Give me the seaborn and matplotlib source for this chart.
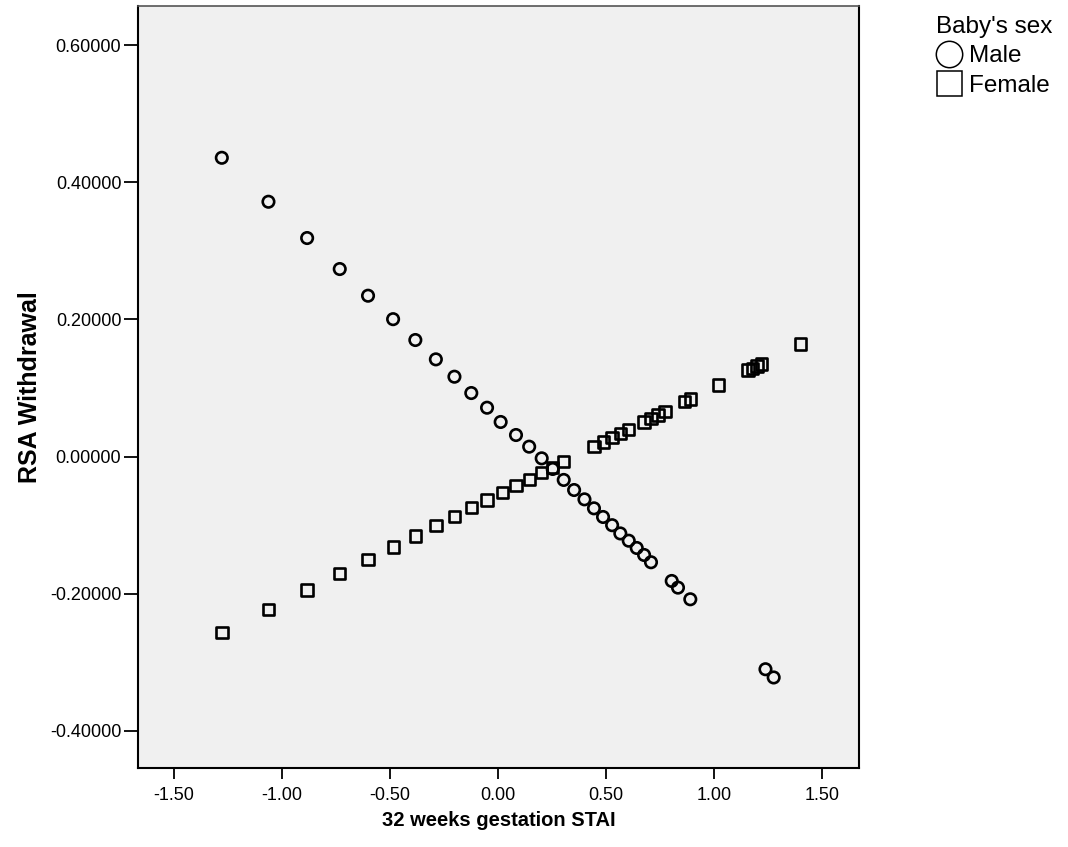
import matplotlib
matplotlib.use("Agg")
import matplotlib.pyplot as plt
from matplotlib.lines import Line2D
import seaborn as sns
import pandas as pd

# ---- data ----
male_stai = [-1.279, -1.063, -0.884, -0.733, -0.602, -0.486, -0.383, -0.288, -0.202,
             -0.124, -0.051, 0.012, 0.083, 0.144, 0.202, 0.253, 0.304, 0.352, 0.400,
             0.444, 0.486, 0.528, 0.566, 0.605, 0.642, 0.676, 0.708, 0.804, 0.833,
             0.890, 1.238, 1.276]
male_rsa = [0.4357, 0.3716, 0.3187, 0.2735, 0.2346, 0.2004, 0.1700, 0.1418, 0.1165,
            0.0927, 0.0713, 0.0505, 0.0315, 0.0145, -0.0025, -0.0180, -0.0340, -0.0487,
            -0.0623, -0.0754, -0.0880, -0.1000, -0.1120, -0.1226, -0.1332, -0.1434,
            -0.1540, -0.1813, -0.1910, -0.2080, -0.3100, -0.3220]

female_stai = [-1.279, -1.063, -0.884, -0.733, -0.602, -0.485, -0.383, -0.287, -0.202,
               -0.122, -0.051, 0.020, 0.083, 0.145, 0.202, 0.253, 0.304, 0.444, 0.488,
               0.528, 0.566, 0.603, 0.676, 0.708, 0.741, 0.773, 0.863, 0.890, 1.020,
               1.157, 1.177, 1.198, 1.219, 1.401]
female_rsa = [-0.2567, -0.2232, -0.1945, -0.1707, -0.1500, -0.1318, -0.1157, -0.1007,
              -0.0876, -0.0745, -0.0633, -0.0526, -0.0424, -0.0331, -0.0235, -0.0160,
              -0.0074, 0.0145, 0.0210, 0.0275, 0.0334, 0.0393, 0.0504, 0.0558, 0.0610,
              0.0655, 0.0800, 0.0840, 0.1044, 0.1262, 0.1287, 0.1320, 0.1350, 0.1640]

sex_labels = ["Male", "Female"]
x_ticks = [-1.5, -1.0, -0.5, 0.0, 0.5, 1.0, 1.5]
y_ticks = [-0.4, -0.2, 0.0, 0.2, 0.4, 0.6]

df = pd.DataFrame({
    "stai": male_stai + female_stai,
    "rsa": male_rsa + female_rsa,
    "sex": [sex_labels[0]] * len(male_stai) + [sex_labels[1]] * len(female_stai),
})

sns.set_theme(style="white")
plt.rcParams["font.family"] = ["Liberation Sans", "DejaVu Sans"]
plt.rcParams["text.color"] = "black"
plt.rcParams["axes.labelcolor"] = "black"
plt.rcParams["xtick.color"] = "black"
plt.rcParams["ytick.color"] = "black"

fig = plt.figure(figsize=(10.68, 8.47), dpi=100)
ax = fig.add_axes([138 / 1068, 1 - 768 / 847, (859 - 138) / 1068, (768 - 6) / 847])
ax.set_facecolor("#F0F0F0")

sns.scatterplot(data=df, x="stai", y="rsa", style="sex",
                markers={"Male": "o", "Female": "s"}, style_order=sex_labels,
                color="black", s=68, linewidth=1.9, legend=False, ax=ax)
for coll in ax.collections:
    coll.set_facecolor("none")
    coll.set_edgecolor("black")
    coll.set_linewidth(1.9)

ax.set_xlim(-1.667, 1.671)
ax.set_ylim(-0.454, 0.657)
ax.set_xticks(x_ticks)
ax.set_xticklabels([f"{v:.2f}" for v in x_ticks])
ax.set_yticks(y_ticks)
ax.set_yticklabels([f"{v:.5f}" for v in y_ticks])
ax.tick_params(axis="both", which="both", direction="out", width=1.3,
               color="black", labelcolor="black", labelsize=13, left=True, bottom=True)
ax.tick_params(axis="y", length=10, pad=2)
ax.tick_params(axis="x", length=8, pad=6)
for side in ["left", "bottom", "right"]:
    ax.spines[side].set_color("black")
    ax.spines[side].set_linewidth(1.5)
ax.spines["top"].set_color("#555555")
ax.spines["top"].set_linewidth(1.2)

ax.set_xlabel("32 weeks gestation STAI", fontsize=14.5, fontweight="bold", labelpad=5,
              color="black")
ax.set_ylabel("RSA Withdrawal", fontsize=18, fontweight="bold", labelpad=6, color="black")

handles = [
    Line2D([], [], marker="o", linestyle="none", markersize=19, markerfacecolor="none",
           markeredgecolor="black", markeredgewidth=1.1),
    Line2D([], [], marker="s", linestyle="none", markersize=18, markerfacecolor="none",
           markeredgecolor="black", markeredgewidth=1.1),
]
leg = fig.legend(handles, sex_labels, title="Baby's sex", loc="upper left",
                 bbox_to_anchor=(936 / 1068, 1 - 16 / 847), frameon=False,
                 fontsize=17.5, title_fontsize=17.5, alignment="left",
                 handlelength=1.1, handletextpad=0.25, labelspacing=0.3,
                 borderaxespad=0, borderpad=0, labelcolor="black")
leg.get_title().set_color("black")

fig.savefig("out.png", dpi=100)
